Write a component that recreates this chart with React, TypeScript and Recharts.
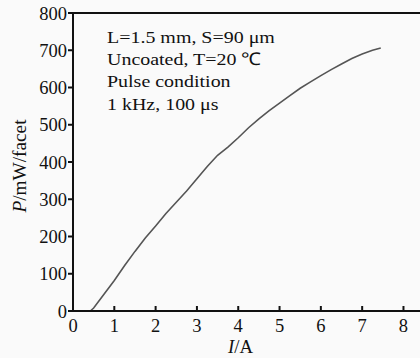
import React from "react";
import { Line, LineChart, ReferenceLine, XAxis, YAxis } from "recharts";

// Pulse L-I curve
const current = [0, 0.42, 0.5, 0.75, 1, 1.25, 1.5, 1.75, 2, 2.25, 2.5, 2.75, 3, 3.25, 3.5, 3.75, 4, 4.25, 4.5, 4.75, 5, 5.25, 5.5, 5.75, 6, 6.25, 6.5, 6.75, 7, 7.25, 7.45];
const power = [0, 0, 8, 45, 82, 122, 160, 196, 228, 262, 292, 322, 355, 388, 418, 440, 465, 492, 516, 538, 558, 578, 598, 615, 632, 648, 663, 678, 690, 700, 706];

const xTicks = [0, 1, 2, 3, 4, 5, 6, 7, 8];
const yTicks = [0, 100, 200, 300, 400, 500, 600, 700, 800];

const notes = ["L=1.5 mm, S=90 μm", "Uncoated, T=20 ℃", "Pulse condition", "1 kHz, 100 μs"];

const data = current.map((c, i) => ({ current: c, power: power[i] }));

const FONT = "'Liberation Serif', 'Times New Roman', serif";

function YTitle(props: any) {
    const vb = props.viewBox;
    const cx = 20;
    const cy = vb.y + vb.height / 2 + 4;
    return (
        <text
            x={cx}
            y={cy}
            transform={`rotate(-90, ${cx}, ${cy})`}
            textAnchor="middle"
            dominantBaseline="central"
            fontFamily={FONT}
            fontSize={18}
            fill="#111"
            textLength={93}
            lengthAdjust="spacingAndGlyphs"
        >
            <tspan fontStyle="italic">P</tspan>/mW/facet
        </text>
    );
}

function XTitle(props: any) {
    const vb = props.viewBox;
    const cx = vb.x + vb.width / 2 - 6;
    return (
        <text
            x={cx}
            y={353}
            textAnchor="middle"
            fontFamily={FONT}
            fontSize={18}
            fill="#111"
            textLength={25}
            lengthAdjust="spacingAndGlyphs"
        >
            <tspan fontStyle="italic">I</tspan>/A
        </text>
    );
}

export default function App() {
    return (
        <div style={{ position: "absolute", left: 0, top: 0, width: 420, height: 358, background: "#fafafa", overflow: "hidden" }}>
            <LineChart width={420} height={358} data={data} margin={{ top: 13, right: 0, bottom: 0, left: 1 }}>
                <XAxis
                    dataKey="current"
                    type="number"
                    domain={[0, 8.4]}
                    ticks={xTicks}
                    height={47}
                    stroke="#111"
                    strokeWidth={2}
                    tickSize={-5}
                    tickMargin={13}
                    tick={{ fill: "#111", fontSize: 18.5, fontFamily: FONT }}
                    label={<XTitle />}
                />
                <YAxis
                    type="number"
                    domain={[0, 800]}
                    ticks={yTicks}
                    width={72}
                    stroke="#111"
                    strokeWidth={2}
                    tickSize={5}
                    tickMargin={1}
                    tick={{ fill: "#111", fontSize: 18.5, fontFamily: FONT }}
                    label={<YTitle />}
                />
                <ReferenceLine y={800} stroke="#111" strokeWidth={2} />
                <Line
                    dataKey="power"
                    type="linear"
                    stroke="#555"
                    strokeWidth={1.6}
                    dot={false}
                    isAnimationActive={false}
                />
            </LineChart>
            <div
                style={{
                    position: "absolute",
                    left: 107,
                    top: 26,
                    fontFamily: FONT,
                    fontSize: 17.5,
                    lineHeight: "22.2px",
                    color: "#111",
                    whiteSpace: "nowrap",
                    transform: "scaleX(1.14)",
                    transformOrigin: "left top",
                }}
            >
                {notes.map((n) => (
                    <div key={n}>{n}</div>
                ))}
            </div>
        </div>
    );
}
